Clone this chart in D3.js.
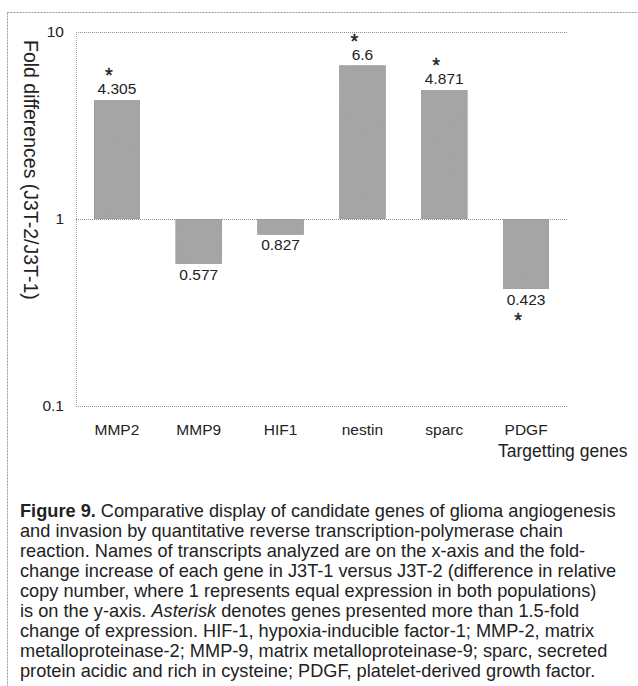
<!DOCTYPE html>
<html>
<head>
<meta charset="utf-8">
<script src="https://cdn.jsdelivr.net/npm/d3@7"></script>
<style>
  body { margin: 0; background: #fff; }
  text { font-family: "Liberation Sans", Arial, sans-serif; fill: #222; }
</style>
</head>
<body>
<div id="chart"></div>
<script>
// Data
const genes = ['MMP2', 'MMP9', 'HIF1', 'nestin', 'sparc', 'PDGF'];
const foldValues = [4.305, 0.577, 0.827, 6.6, 4.871, 0.423];
const valueLabels = ['4.305', '0.577', '0.827', '6.6', '4.871', '0.423'];
const starred = [true, false, false, true, true, true];
const yTicks = [0.1, 1, 10];

const captionLines = [
  [['b', 'Figure 9.'], ['', ' Comparative display of candidate genes of glioma angiogenesis']],
  [['', 'and invasion by quantitative reverse transcription-polymerase chain']],
  [['', 'reaction. Names of transcripts analyzed are on the x-axis and the fold-']],
  [['', 'change increase of each gene in J3T-1 versus J3T-2 (difference in relative']],
  [['', 'copy number, where 1 represents equal expression in both populations)']],
  [['', 'is on the y-axis. '], ['i', 'Asterisk'], ['', ' denotes genes presented more than 1.5-fold']],
  [['', 'change of expression. HIF-1, hypoxia-inducible factor-1; MMP-2, matrix']],
  [['', 'metalloproteinase-2; MMP-9, matrix metalloproteinase-9; sparc, secreted']],
  [['', 'protein acidic and rich in cysteine; PDGF, platelet-derived growth factor.']]
];

const data = genes.map((g, i) => ({ gene: g, value: foldValues[i], label: valueLabels[i], star: starred[i] }));

const W = 638, H = 686;
const plot = { left: 76, right: 567, top: 32, bottom: 406 };

const svg = d3.select('#chart').append('svg')
  .attr('width', W)
  .attr('height', H);

// outer figure frame (left and top edges only are visible)
svg.append('line')
  .attr('x1', 7.5).attr('x2', W).attr('y1', 12.5).attr('y2', 12.5)
  .attr('stroke', '#9a9a9a').attr('stroke-dasharray', '2,1');
svg.append('line')
  .attr('x1', 7.5).attr('x2', 7.5).attr('y1', 12.5).attr('y2', H)
  .attr('stroke', '#9a9a9a').attr('stroke-dasharray', '2,1');

// scales
const x = d3.scaleBand()
  .domain(genes)
  .range([plot.left, plot.right])
  .paddingInner(0.44)
  .paddingOuter(0.22);

const y = d3.scaleLog()
  .domain([0.1, 10])
  .range([plot.bottom, plot.top]);

// grid lines at the decades + left frame
svg.append('g')
  .selectAll('line')
  .data(yTicks)
  .join('line')
  .attr('x1', plot.left).attr('x2', plot.right)
  .attr('y1', d => Math.round(y(d)) + 0.5).attr('y2', d => Math.round(y(d)) + 0.5)
  .attr('stroke', '#8c8c8c')
  .attr('stroke-dasharray', '1,1');
svg.append('line')
  .attr('x1', plot.left + 0.5).attr('x2', plot.left + 0.5)
  .attr('y1', plot.top).attr('y2', plot.bottom)
  .attr('stroke', '#a0a0a0')
  .attr('stroke-dasharray', '1,1');

// y axis tick labels
const yAxis = d3.axisLeft(y)
  .tickValues(yTicks)
  .tickFormat(d => d3.format('~g')(d))
  .tickSize(0)
  .tickPadding(12);
const yAxisG = svg.append('g')
  .attr('transform', `translate(${plot.left},0)`)
  .call(yAxis);
yAxisG.select('.domain').remove();
yAxisG.selectAll('text')
  .attr('font-size', 15.5)
  .attr('font-family', '"Liberation Sans", Arial, sans-serif')
  .attr('fill', '#222');

// grainy fill for the bars
const defs = svg.append('defs');
const grain = defs.append('filter').attr('id', 'grain')
  .attr('x', 0).attr('y', 0).attr('width', 1).attr('height', 1);
grain.append('feTurbulence')
  .attr('type', 'fractalNoise').attr('baseFrequency', 1.2)
  .attr('numOctaves', 1).attr('seed', 3).attr('result', 'noise');
grain.append('feColorMatrix').attr('in', 'noise').attr('type', 'matrix')
  .attr('values', '0 0 0 0 0.4  0 0 0 0 0.4  0 0 0 0 0.4  0 0 0 -1.2 0.75')
  .attr('result', 'dots');
grain.append('feComposite').attr('in', 'dots').attr('in2', 'SourceGraphic')
  .attr('operator', 'in').attr('result', 'dotsIn');
grain.append('feMerge').selectAll('feMergeNode')
  .data(['SourceGraphic', 'dotsIn'])
  .join('feMergeNode').attr('in', d => d);

// bars grow from 1 (no change)
svg.append('g')
  .selectAll('rect')
  .data(data)
  .join('rect')
  .attr('x', d => x(d.gene))
  .attr('width', x.bandwidth())
  .attr('y', d => Math.min(y(d.value), y(1)))
  .attr('height', d => Math.abs(y(d.value) - y(1)))
  .attr('fill', '#a4a4a4')
  .attr('stroke', '#8e8e8e')
  .attr('stroke-width', 0.6)
  .attr('filter', 'url(#grain)');

// value labels
svg.append('g')
  .selectAll('text')
  .data(data)
  .join('text')
  .attr('x', d => x(d.gene) + x.bandwidth() / 2)
  .attr('y', d => d.value >= 1 ? y(d.value) - 6 : y(d.value) + 16)
  .attr('text-anchor', 'middle')
  .attr('font-size', 15.5)
  .text(d => d.label);

// asterisks for > 1.5-fold change
svg.append('g')
  .selectAll('text')
  .data(data.filter(d => d.star))
  .join('text')
  .attr('x', d => x(d.gene) + x.bandwidth() / 2 - 8)
  .attr('y', d => d.value >= 1 ? y(d.value) - 18 : y(d.value) + 38)
  .attr('text-anchor', 'middle')
  .attr('font-size', 20)
  .attr('stroke', '#222')
  .attr('stroke-width', 0.4)
  .text('*');

// x axis labels
const xAxis = d3.axisBottom(x).tickSize(0).tickPadding(0);
const xAxisG = svg.append('g')
  .attr('transform', `translate(0,${plot.bottom + 18})`)
  .call(xAxis);
xAxisG.select('.domain').remove();
xAxisG.selectAll('text')
  .attr('font-size', 15.5)
  .attr('font-family', '"Liberation Sans", Arial, sans-serif')
  .attr('fill', '#222');

svg.append('text')
  .attr('x', 498)
  .attr('y', 457)
  .attr('font-size', 17.5)
  .text('Targetting genes');

// y axis title, reading top to bottom
svg.append('text')
  .attr('transform', 'translate(24,40) rotate(90)')
  .attr('font-size', 19.5)
  .text('Fold differences (J3T-2/J3T-1)');

// figure caption
const cap = svg.append('g').attr('font-size', 18.2);
captionLines.forEach((parts, i) => {
  const t = cap.append('text')
    .attr('x', 20)
    .attr('y', 517 + i * 20);
  parts.forEach(([style, str]) => {
    t.append('tspan')
      .attr('font-weight', style === 'b' ? 'bold' : null)
      .attr('font-style', style === 'i' ? 'italic' : null)
      .text(str);
  });
});
</script>
</body>
</html>
